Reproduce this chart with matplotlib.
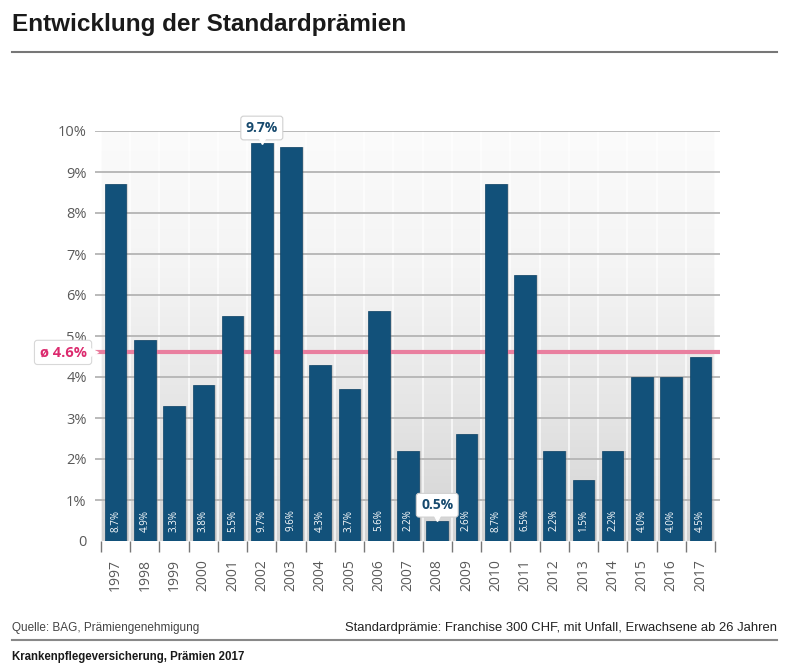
import matplotlib
matplotlib.use("Agg")
import matplotlib.pyplot as plt
import numpy as np
from matplotlib.colors import LinearSegmentedColormap

years = ["1997", "1998", "1999", "2000", "2001", "2002", "2003", "2004", "2005", "2006",
         "2007", "2008", "2009", "2010", "2011", "2012", "2013", "2014", "2015", "2016", "2017"]
values = [8.7, 4.9, 3.3, 3.8, 5.5, 9.7, 9.6, 4.3, 3.7, 5.6,
          2.2, 0.5, 2.6, 8.7, 6.5, 2.2, 1.5, 2.2, 4.0, 4.0, 4.5]
mean_value = 4.6
ytick_vals = [0, 1, 2, 3, 4, 5, 6, 7, 8, 9, 10]
ytick_labels = ["0", "1%", "2%", "3%", "4%", "5%", "6%", "7%", "8%", "9%", "10%"]
title = "Entwicklung der Standardprämien"
source = "Quelle: BAG, Prämiengenehmigung"
note = "Standardprämie: Franchise 300 CHF, mit Unfall, Erwachsene ab 26 Jahren"
footer = "Krankenpflegeversicherung, Prämien 2017"

BAR = "#12517a"
PINK = "#e97f9f"
PINK_TXT = "#dc2a6e"
GRID = "#b4b4b4"
TICKTXT = "#5a5a5a"

W, H = 785, 666
fig = plt.figure(figsize=(W / 100, H / 100), dpi=100)

def fx(px):
    return px / W

def fy(py):
    return 1 - py / H

# axes: x pixel 95..720, y pixel 131 (10) .. 541 (0)
ax = fig.add_axes([fx(95), fy(541), fx(720) - fx(95), fy(131) - fy(541)])
n = len(years)
cw = 29.23
xl = -0.5 - (101 - 95) / cw
xr = n - 0.5 + (720 - 715) / cw
ax.set_xlim(xl, xr)
ax.set_ylim(0, 10)
for s in ax.spines.values():
    s.set_visible(False)
ax.set_facecolor("white")

# gradient background
cmap = LinearSegmentedColormap.from_list("bg", ["#d3d3d3", "#e6e6e6", "#f4f4f4", "#fbfbfb"])
grad = np.linspace(0, 1, 256).reshape(-1, 1)
ax.imshow(grad, extent=(-0.5, n - 0.5, 0, 10), origin="lower", aspect="auto",
          cmap=cmap, zorder=0, interpolation="bicubic")
# vertical white separators
for b in np.arange(-0.5, n, 1.0):
    ax.plot([b, b], [0, 10], color="white", lw=1.2, alpha=0.8, zorder=0.5)

# horizontal gridlines
for v in ytick_vals[1:]:
    ax.axhline(v, color=GRID, lw=1.3, zorder=1)

x = np.arange(n)
# shadow bars
ax.bar(x + 0.07, values, width=0.74, color="#555555", alpha=0.18, zorder=2)
ax.bar(x, values, width=0.74, color=BAR, zorder=3, edgecolor="#0d4266", linewidth=0.5)

# values inside bars
for xi, v in zip(x, values):
    if v >= 1.0:
        ax.text(xi, 0.5, f"{v:.1f}%", rotation=90, ha="center", va="center",
                color="white", fontsize=7, family="Open Sans", zorder=4)

# mean line
ax.axhline(mean_value, color=PINK, lw=3, zorder=2.5)
ax.annotate(f"ø {mean_value}%", xy=(xl, mean_value), xycoords="data",
            xytext=(-23, 0), textcoords="offset points", ha="center", va="center",
            color=PINK_TXT, fontsize=10.5, fontweight="bold", family="Open Sans",
            annotation_clip=False, zorder=6,
            bbox=dict(boxstyle="round,pad=0.35,rounding_size=0.2", fc="white", ec="#d8d8d8", lw=0.8))
ax.plot([xl - 0.02], [mean_value], marker=">", ms=6, mfc="white", mec="white",
        mew=0.8, clip_on=False, zorder=7)

# callouts
for idx in [5, 11]:
    v = values[idx]
    ax.annotate(f"{v:.1f}%", xy=(idx, v), xycoords="data",
                xytext=(0, 11), textcoords="offset points", ha="center", va="center",
                color="#174a6e", fontsize=10, fontweight="bold", family="Open Sans",
                annotation_clip=False, zorder=6,
                bbox=dict(boxstyle="round,pad=0.35,rounding_size=0.2", fc="white", ec="#d0d0d0", lw=0.8))
    ax.plot([idx], [v + 0.05], marker="v", ms=5, mfc="white", mec="white",
            clip_on=False, zorder=7)

# ticks
ax.set_yticks(ytick_vals)
ax.set_yticklabels(ytick_labels)
ax.tick_params(axis="y", length=0, pad=6, labelsize=10.5, labelcolor=TICKTXT)
for lab in ax.get_yticklabels():
    lab.set_family("Open Sans")
ax.set_xticks(x)
ax.set_xticklabels(years, rotation=90)
ax.tick_params(axis="x", which="major", length=0, pad=13, labelsize=10, labelcolor=TICKTXT)
for lab in ax.get_xticklabels():
    lab.set_family("Open Sans")
ax.set_xticks(np.arange(-0.5, n, 1.0), minor=True)
ax.tick_params(axis="x", which="minor", length=8, width=1, color="#777777", direction="out", pad=0)

# titles and footer
fig.text(fx(12), fy(25), title, ha="left", va="center", fontsize=17.5, fontweight="bold",
         family="Liberation Sans", color="#1a1a1a")
fig.add_artist(plt.Line2D([fx(12), fx(777)], [fy(52), fy(52)], color="#777777", lw=1.5))
fig.text(fx(12), fy(628), source, ha="left", va="center", fontsize=8.5,
         family="Liberation Sans", color="#444444")
fig.text(fx(777), fy(628), note, ha="right", va="center", fontsize=9.4,
         family="Liberation Sans", color="#222222")
fig.add_artist(plt.Line2D([fx(12), fx(777)], [fy(640), fy(640)], color="#888888", lw=1.5))
fig.text(fx(12), fy(657), footer, ha="left", va="center", fontsize=8.3, fontweight="bold",
         family="Liberation Sans", color="#1a1a1a")

fig.savefig("out.png", dpi=100)
